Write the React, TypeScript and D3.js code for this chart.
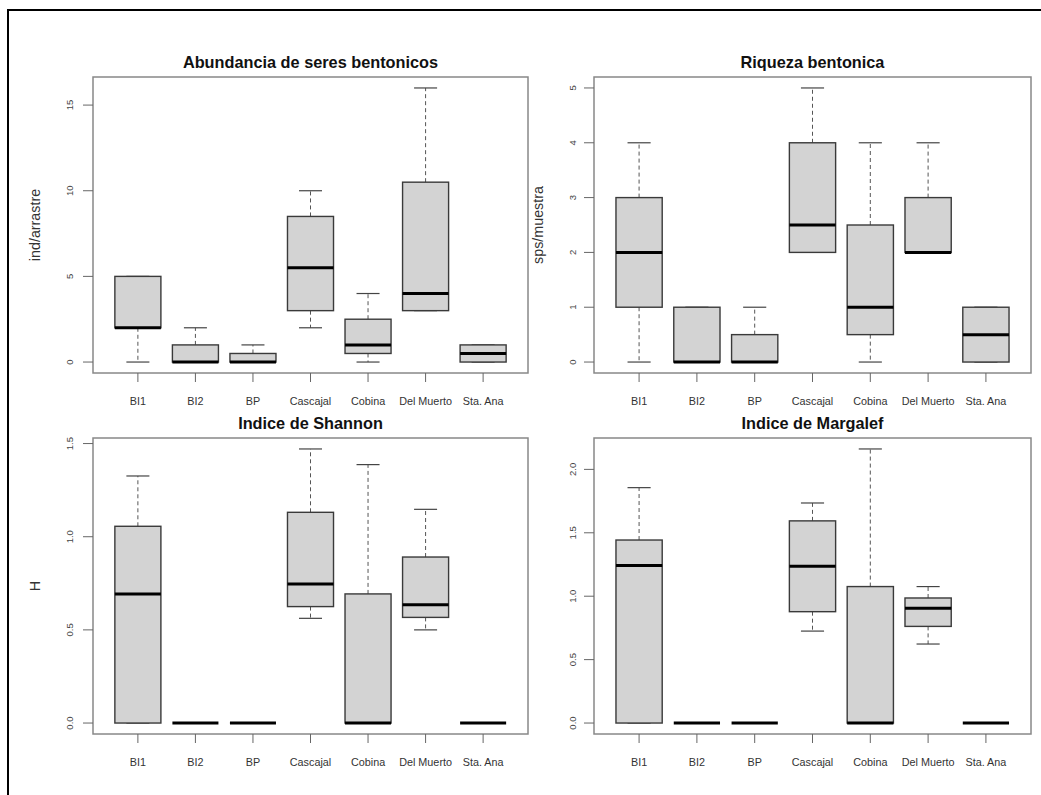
import React from "react";
import * as d3 from "d3";

const categories = ["BI1", "BI2", "BP", "Cascajal", "Cobina", "Del Muerto", "Sta. Ana"];

// [min, q1, median, q3, max] per category
const abundancia = [
  [0, 2, 2, 5, 5],
  [0, 0, 0, 1, 2],
  [0, 0, 0, 0.5, 1],
  [2, 3, 5.5, 8.5, 10],
  [0, 0.5, 1, 2.5, 4],
  [3, 3, 4, 10.5, 16],
  [0, 0, 0.5, 1, 1],
];
const riqueza = [
  [0, 1, 2, 3, 4],
  [0, 0, 0, 1, 1],
  [0, 0, 0, 0.5, 1],
  [2, 2, 2.5, 4, 5],
  [0, 0.5, 1, 2.5, 4],
  [2, 2, 2, 3, 4],
  [0, 0, 0.5, 1, 1],
];
const shannon = [
  [0, 0, 0.693, 1.056, 1.326],
  [0, 0, 0, 0, 0],
  [0, 0, 0, 0, 0],
  [0.562, 0.625, 0.746, 1.131, 1.471],
  [0, 0, 0, 0.693, 1.387],
  [0.5, 0.567, 0.635, 0.891, 1.147],
  [0, 0, 0, 0, 0],
];
const margalef = [
  [0, 0, 1.242, 1.443, 1.856],
  [0, 0, 0, 0, 0],
  [0, 0, 0, 0, 0],
  [0.725, 0.878, 1.237, 1.594, 1.735],
  [0, 0, 0, 1.076, 2.161],
  [0.623, 0.762, 0.905, 0.986, 1.076],
  [0, 0, 0, 0, 0],
];

const ticksAbund = [0, 5, 10, 15];
const ticksRiq = [0, 1, 2, 3, 4, 5];
const ticksShan = [0, 0.5, 1, 1.5];
const ticksMarg = [0, 0.5, 1, 1.5, 2];

const panels = [
  { title: "Abundancia de seres bentonicos", ylab: "ind/arrastre", data: abundancia, ticks: ticksAbund, fmt: (v: number) => String(v), x0: 93, x1: 528, y0: 77, y1: 373, labX: 69, ylabX: 35 },
  { title: "Riqueza bentonica", ylab: "sps/muestra", data: riqueza, ticks: ticksRiq, fmt: (v: number) => String(v), x0: 594, x1: 1031, y0: 77, y1: 373, labX: 572, ylabX: 538 },
  { title: "Indice de Shannon", ylab: "H", data: shannon, ticks: ticksShan, fmt: (v: number) => v.toFixed(1), x0: 93, x1: 528, y0: 438, y1: 734, labX: 69, ylabX: 35 },
  { title: "Indice de Margalef", ylab: "", data: margalef, ticks: ticksMarg, fmt: (v: number) => v.toFixed(1), x0: 594, x1: 1031, y0: 438, y1: 734, labX: 572, ylabX: 538 },
];

const FONT = "Liberation Sans, Arial, sans-serif";

function Panel({ p }: { p: (typeof panels)[number] }) {
  const n = categories.length;
  const ext = n * 0.04;
  const x = d3.scaleLinear().domain([0.5 - ext, n + 0.5 + ext]).range([p.x0, p.x1]);
  const lo = d3.min(p.data, (d) => d[0]) as number;
  const hi = d3.max(p.data, (d) => d[4]) as number;
  const r = hi - lo;
  const y = d3.scaleLinear().domain([lo - 0.04 * r, hi + 0.04 * r]).range([p.y1, p.y0]);
  const halfBox = 0.4;
  const halfCap = 0.2;
  const cx = (p.x0 + p.x1) / 2;
  const cy = (p.y0 + p.y1) / 2;
  return (
    <g>
      <text x={cx} y={p.y0 - 9} textAnchor="middle" fontFamily={FONT} fontWeight="bold" fontSize={16.3} fill="#111">
        {p.title}
      </text>
      {p.ylab && (
        <text transform={`translate(${p.ylabX},${cy}) rotate(-90)`} textAnchor="middle" dominantBaseline="central" fontFamily={FONT} fontSize={14.3} fill="#333">
          {p.ylab}
        </text>
      )}
      {p.data.map((d, i) => {
        const c = x(i + 1);
        const bl = x(i + 1 - halfBox);
        const br = x(i + 1 + halfBox);
        const cl = x(i + 1 - halfCap);
        const cr = x(i + 1 + halfCap);
        return (
          <g key={i}>
            <line x1={c} x2={c} y1={y(d[3])} y2={y(d[4])} stroke="#555" strokeWidth={1} strokeDasharray="4,3" />
            <line x1={c} x2={c} y1={y(d[1])} y2={y(d[0])} stroke="#555" strokeWidth={1} strokeDasharray="4,3" />
            <line x1={cl} x2={cr} y1={y(d[4])} y2={y(d[4])} stroke="#444" strokeWidth={1.2} />
            <line x1={cl} x2={cr} y1={y(d[0])} y2={y(d[0])} stroke="#444" strokeWidth={1.2} />
            <rect x={bl} y={y(d[3])} width={br - bl} height={Math.max(0, y(d[1]) - y(d[3]))} fill="#d3d3d3" stroke="#3a3a3a" strokeWidth={1.4} />
            <line x1={bl} x2={br} y1={y(d[2])} y2={y(d[2])} stroke="#000" strokeWidth={3} />
          </g>
        );
      })}
      <rect x={p.x0} y={p.y0} width={p.x1 - p.x0} height={p.y1 - p.y0} fill="none" stroke="#888" strokeWidth={1.5} />
      {p.ticks.map((t) => (
        <g key={t}>
          <line x1={p.x0 - 10} x2={p.x0} y1={y(t)} y2={y(t)} stroke="#666" strokeWidth={1} />
          <text transform={`translate(${p.labX},${y(t)}) rotate(-90)`} textAnchor="middle" dominantBaseline="central" fontFamily={FONT} fontSize={9.5} fill="#444">
            {p.fmt(t)}
          </text>
        </g>
      ))}
      {categories.map((c, i) => (
        <g key={c}>
          <line x1={x(i + 1)} x2={x(i + 1)} y1={p.y1} y2={p.y1 + 9} stroke="#666" strokeWidth={1} />
          <text x={x(i + 1)} y={p.y1 + 28} textAnchor="middle" dominantBaseline="central" fontFamily={FONT} fontSize={10.8} fill="#333">
            {c}
          </text>
        </g>
      ))}
    </g>
  );
}

export default function App() {
  return (
    <svg width={1041} height={795} style={{ position: "absolute", left: 0, top: 0, background: "#fff" }}>
      <rect x={0} y={0} width={1041} height={795} fill="#fff" />
      <line x1={8} x2={1041} y1={10} y2={10} stroke="#000" strokeWidth={2} />
      <line x1={8} x2={8} y1={9} y2={795} stroke="#000" strokeWidth={2} />
      {panels.map((p, i) => (
        <Panel key={i} p={p} />
      ))}
    </svg>
  );
}
